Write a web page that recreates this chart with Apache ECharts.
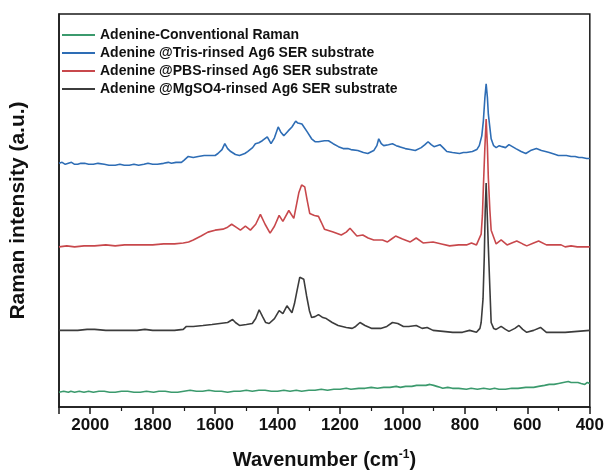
<!DOCTYPE html>
<html>
<head>
<meta charset="utf-8">
<script src="https://cdn.jsdelivr.net/npm/echarts@6/dist/echarts.min.js"></script>
<style>html,body{margin:0;padding:0;background:#fff}#c{width:607px;height:475px}</style>
</head>
<body>
<div id="c"></div>
<script>
const seriesNames = [
  'Adenine-Conventional Raman',
  'Adenine @Tris-rinsed Ag6 SER substrate',
  'Adenine @PBS-rinsed Ag6 SER substrate',
  'Adenine @MgSO4-rinsed Ag6 SER substrate'
];
const xTickLabels = [2000, 1800, 1600, 1400, 1200, 1000, 800, 600, 400];

const conventional = [[2100,15],[2085,16],[2070,15],[2062,16],[2056,18],[2050,15],[2035,16],[2020,15],[2005,16],[1990,15],[1972,16],[1955,16],[1938,15],[1920,15],[1900,16],[1880,16],[1860,15],[1840,15],[1820,16],[1797,15],[1780,16],[1760,16],[1740,15],[1720,15],[1700,16],[1680,17],[1660,16],[1640,16],[1620,17],[1600,16],[1580,16],[1560,15],[1540,16],[1520,16],[1500,17],[1481,16],[1460,17],[1440,17],[1420,16],[1400,16],[1380,17],[1360,16],[1340,17],[1323,16],[1300,17],[1280,17],[1260,18],[1240,17],[1220,18],[1200,18],[1180,19],[1165,18],[1140,19],[1120,19],[1100,20],[1080,19],[1060,20],[1040,20],[1020,21],[1007,20],[990,21],[970,21],[955,22],[940,22],[925,22],[912,23],[900,22],[890,21],[880,20],[871,19],[855,20],[840,19],[820,19],[795,18],[780,19],[760,18],[740,19],[720,18],[705,19],[691,18],[670,18],[650,19],[630,19],[605,20],[590,20],[580,20],[564,21],[545,22],[530,23],[515,23],[500,24],[485,25],[469,26],[460,25],[450,25],[438,25],[428,24],[416,23],[408,25],[400,24]];

const tris = [[2100,248],[2090,249],[2080,247],[2070,248],[2060,249],[2050,247],[2040,247],[2030,248],[2018,248],[2005,247],[1990,247],[1975,248],[1955,247],[1940,246],[1920,246],[1905,247],[1891,246],[1875,246],[1860,247],[1845,246],[1828,247],[1815,248],[1800,247],[1785,247],[1765,248],[1750,249],[1740,248],[1725,249],[1708,249],[1700,251],[1695,252],[1686,255],[1670,254],[1654,255],[1635,256],[1617,256],[1600,256],[1591,258],[1578,262],[1569,268],[1560,263],[1550,260],[1535,257],[1522,256],[1505,258],[1496,260],[1480,264],[1471,268],[1460,269],[1449,271],[1433,275],[1421,268],[1410,274],[1398,285],[1390,280],[1380,276],[1366,281],[1354,285],[1342,291],[1335,289],[1329,291],[1322,288],[1316,286],[1305,280],[1291,273],[1280,270],[1269,270],[1250,271],[1237,271],[1222,268],[1205,265],[1190,263],[1175,263],[1165,262],[1143,261],[1125,259],[1111,258],[1092,261],[1082,266],[1076,273],[1068,268],[1060,266],[1045,267],[1032,268],[1020,266],[1010,265],[991,263],[975,262],[959,261],[940,264],[928,267],[918,270],[908,267],[899,265],[880,267],[870,264],[858,260],[840,259],[817,258],[805,259],[795,259],[776,260],[762,262],[754,266],[746,276],[741,291],[736,315],[732,329],[728,315],[725,298],[716,273],[708,266],[700,264],[690,266],[681,265],[670,264],[659,267],[648,265],[637,263],[620,260],[605,258],[590,261],[571,263],[555,261],[542,260],[530,259],[520,258],[510,257],[501,256],[488,256],[475,256],[460,255],[447,255],[435,254],[425,254],[410,253],[400,253]];

const pbs = [[2100,163],[2075,164],[2050,163],[2020,164],[1986,164],[1950,165],[1920,164],[1890,165],[1860,165],[1830,165],[1800,165],[1765,166],[1730,166],[1702,167],[1685,168],[1670,170],[1645,174],[1623,178],[1600,180],[1575,181],[1560,183],[1547,186],[1533,183],[1519,180],[1503,184],[1487,180],[1470,186],[1455,196],[1440,186],[1424,177],[1410,184],[1395,195],[1383,189],[1364,200],[1348,192],[1340,205],[1332,218],[1323,226],[1313,224],[1305,210],[1297,197],[1282,195],[1269,194],[1260,188],[1250,181],[1222,178],[1196,175],[1180,178],[1168,182],[1146,174],[1127,175],[1110,172],[1092,170],[1064,170],[1048,168],[1035,171],[1022,174],[1000,171],[975,168],[956,172],[934,167],[902,168],[875,166],[849,164],[820,165],[795,165],[779,167],[763,165],[748,176],[744,195],[741,223],[736,265],[732,293],[728,265],[725,233],[720,200],[716,180],[700,166],[684,170],[665,165],[650,167],[634,169],[615,166],[602,164],[580,167],[564,169],[539,165],[510,165],[492,165],[479,163],[460,164],[440,163],[420,163],[400,163]];

const mgso4 = [[2100,78],[2070,78],[2040,78],[2010,79],[1986,79],[1950,78],[1920,78],[1885,78],[1850,78],[1825,79],[1800,78],[1765,78],[1730,78],[1702,79],[1692,82],[1670,82],[1639,83],[1610,84],[1585,85],[1560,86],[1544,89],[1535,86],[1522,83],[1500,84],[1481,85],[1470,90],[1459,99],[1448,92],[1438,86],[1427,85],[1410,90],[1395,98],[1383,95],[1370,103],[1354,96],[1346,105],[1338,118],[1329,132],[1316,130],[1307,113],[1298,98],[1291,91],[1280,92],[1269,94],[1255,91],[1244,90],[1225,86],[1206,83],[1180,81],[1161,80],[1150,82],[1136,86],[1120,83],[1098,80],[1070,80],[1050,82],[1032,86],[1015,85],[997,82],[980,82],[956,83],[937,80],[921,81],[902,78],[870,77],[839,76],[808,76],[785,78],[763,76],[752,80],[748,86],[742,110],[738,153],[735,200],[732,228],[729,200],[725,163],[720,120],[716,86],[708,80],[700,79],[684,82],[670,79],[659,77],[640,80],[627,83],[615,79],[602,76],[580,78],[558,81],[539,76],[510,76],[479,76],[440,77],[400,78]];

const colors = ['#3b9a6d', '#2e6db5', '#c8484c', '#3c3c3c'];
const dataSets = [conventional, tris, pbs, mgso4];

const chart = echarts.init(document.getElementById('c'), null, {renderer: 'canvas'});
const font = 'Liberation Sans, Arial, sans-serif';
chart.setOption({
  animation: false,
  backgroundColor: '#fff',
  color: colors,
  grid: {left: 54, right: 15, top: 14, bottom: 62, show: true, borderColor: '#1a1a1a', borderWidth: 1.5, backgroundColor: 'transparent'},
  legend: {
    orient: 'vertical', left: 57, top: 23, itemGap: 4,
    icon: 'rect', itemWidth: 33, itemHeight: 2, itemTextGap: 5,
    data: seriesNames,
    textStyle: {fontFamily: font, fontWeight: 'bold', fontSize: 14, color: '#111'}
  },
  xAxis: {
    type: 'value', inverse: true, min: 400, max: 2100, interval: 200,
    name: 'Wavenumber (cm{sup|-1})', nameLocation: 'middle', nameGap: 42,
    nameTextStyle: {fontFamily: font, fontWeight: 'bold', fontSize: 20, color: '#111',
      rich: {sup: {fontFamily: font, fontWeight: 'bold', fontSize: 12, verticalAlign: 'top', padding: [0,0,10,0]}}},
    axisLine: {show: true, onZero: false, lineStyle: {color: '#1a1a1a', width: 1.5}},
    axisTick: {show: true, length: 7, lineStyle: {color: '#1a1a1a', width: 1.5}},
    minorTick: {show: true, splitNumber: 2, length: 4, lineStyle: {color: '#1a1a1a', width: 1.2}},
    splitLine: {show: false},
    axisLabel: {fontFamily: font, fontWeight: 'bold', fontSize: 17, color: '#111', margin: 10,
      formatter: v => xTickLabels.includes(v) ? String(v) : ''}
  },
  yAxis: {
    type: 'value', min: 0, max: 400,
    name: 'Raman intensity (a.u.)', nameLocation: 'middle', nameGap: 30,
    nameTextStyle: {fontFamily: font, fontWeight: 'bold', fontSize: 21, color: '#111'},
    axisLine: {show: true, lineStyle: {color: '#1a1a1a', width: 1.5}},
    axisTick: {show: false}, axisLabel: {show: false}, splitLine: {show: false}
  },
  series: dataSets.map((d, i) => ({
    name: seriesNames[i], type: 'line', data: d, showSymbol: false, symbol: 'none',
    smooth: false, lineStyle: {width: 1.6, color: colors[i]}, z: 2 + i
  }))
});
</script>
</body>
</html>
